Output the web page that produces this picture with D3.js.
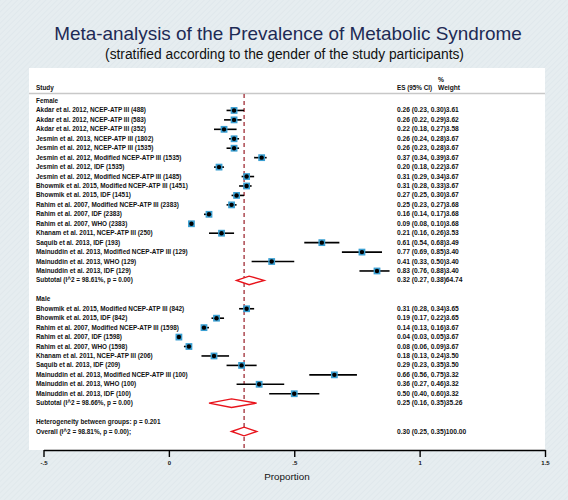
<!DOCTYPE html>
<html><head><meta charset="utf-8">
<script src="https://cdn.jsdelivr.net/npm/d3@7"></script>
<style>body{margin:0;background:#e8eef0;} svg{display:block;}</style>
</head><body><svg id="c" width="568" height="500"></svg>
<script>
const titleText = "Meta-analysis of the Prevalence of Metabolic Syndrome";
const subtitleText = "(stratified according to the gender of the study participants)";

const femaleStudies = [
  "Akdar et al. 2012, NCEP-ATP III  (488)",
  "Akdar et al. 2012, NCEP-ATP III (583)",
  "Akdar et al. 2012, NCEP-ATP III  (352)",
  "Jesmin et al. 2013, NCEP-ATP III (1802)",
  "Jesmin et al. 2012, NCEP-ATP III (1535)",
  "Jesmin et al. 2012, Modified NCEP-ATP III (1535)",
  "Jesmin et al. 2012, IDF (1535)",
  "Jesmin et al. 2012, Modified NCEP-ATP III (1485)",
  "Bhowmik et al. 2015, Modified NCEP-ATP III (1451)",
  "Bhowmik et al. 2015, IDF (1451)",
  "Rahim et al. 2007, Modified NCEP-ATP III (2383)",
  "Rahim et al. 2007, IDF (2383)",
  "Rahim et al. 2007, WHO (2383)",
  "Khanam et al. 2011, NCEP-ATP III (250)",
  "Saquib et al. 2013, IDF (193)",
  "Mainuddin et al. 2013, Modified NCEP-ATP III (129)",
  "Mainuddin et al. 2013, WHO (129)",
  "Mainuddin et al. 2013, IDF (129)"
];
const femaleES = [0.26,0.26,0.22,0.26,0.26,0.37,0.20,0.31,0.31,0.27,0.25,0.16,0.09,0.21,0.61,0.77,0.41,0.83];
const femaleLo = [0.23,0.22,0.18,0.24,0.23,0.34,0.18,0.29,0.28,0.25,0.23,0.14,0.08,0.16,0.54,0.69,0.33,0.76];
const femaleHi = [0.30,0.29,0.27,0.28,0.28,0.39,0.22,0.34,0.33,0.30,0.27,0.17,0.10,0.26,0.68,0.85,0.50,0.88];
const femaleWeight = ["3.61","3.62","3.58","3.67","3.67","3.67","3.67","3.67","3.67","3.67","3.68","3.68","3.68","3.53","3.49","3.40","3.40","3.40"];

const maleStudies = [
  "Bhowmik et al. 2015, Modified NCEP-ATP III (842)",
  "Bhowmik et al. 2015, IDF (842)",
  "Rahim et al. 2007, Modified NCEP-ATP III (1598)",
  "Rahim et al. 2007, IDF (1598)",
  "Rahim et al. 2007, WHO (1598)",
  "Khanam et al. 2011, NCEP-ATP III (206)",
  "Saquib et al. 2013, IDF (209)",
  "Mainuddin et al. 2013, Modified NCEP-ATP III (100)",
  "Mainuddin et al. 2013, WHO (100)",
  "Mainuddin et al. 2013, IDF (100)"
];
const maleES = [0.31,0.19,0.14,0.04,0.08,0.18,0.29,0.66,0.36,0.50];
const maleLo = [0.28,0.17,0.13,0.03,0.06,0.13,0.23,0.56,0.27,0.40];
const maleHi = [0.34,0.22,0.16,0.05,0.09,0.24,0.35,0.75,0.46,0.60];
const maleWeight = ["3.65","3.65","3.67","3.67","3.67","3.50","3.50","3.32","3.32","3.32"];

const pooledLabels = ["Subtotal  (I^2 = 98.61%, p = 0.00)", "Subtotal  (I^2 = 98.66%, p = 0.00)", "Overall  (I^2 = 98.81%, p = 0.00);"];
const pooledES = [0.32, 0.25, 0.30];
const pooledLo = [0.27, 0.16, 0.25];
const pooledHi = [0.38, 0.35, 0.35];
const pooledWeight = ["64.74", "35.26", "100.00"];
const heterogeneityText = "Heterogeneity between groups: p = 0.201";
const overallRef = 0.30;

const xTicks = [-0.5, 0, 0.5, 1, 1.5];
const xTickLabels = ["-.5", "0", ".5", "1", "1.5"];
const xTitle = "Proportion";

// build rows
const rows = [];
rows.push({type:"group", label:"Female"});
femaleStudies.forEach((s,i)=>rows.push({type:"study", label:s, es:femaleES[i], lo:femaleLo[i], hi:femaleHi[i], w:femaleWeight[i]}));
rows.push({type:"pooled", label:pooledLabels[0], es:pooledES[0], lo:pooledLo[0], hi:pooledHi[0], w:pooledWeight[0]});
rows.push({type:"blank"});
rows.push({type:"group", label:"Male"});
maleStudies.forEach((s,i)=>rows.push({type:"study", label:s, es:maleES[i], lo:maleLo[i], hi:maleHi[i], w:maleWeight[i]}));
rows.push({type:"pooled", label:pooledLabels[1], es:pooledES[1], lo:pooledLo[1], hi:pooledHi[1], w:pooledWeight[1]});
rows.push({type:"blank"});
rows.push({type:"group", label:heterogeneityText});
rows.push({type:"pooled", label:pooledLabels[2], es:pooledES[2], lo:pooledLo[2], hi:pooledHi[2], w:pooledWeight[2]});

const svg = d3.select("#c");
const FONT = "'Liberation Sans', Arial, Helvetica, sans-serif";

// size a font so a sample string gets a target width
function fitSize(str, target, weight) {
  const t = svg.append("text").attr("font-family",FONT).attr("font-size",20)
    .attr("font-weight",weight||"normal").text(str);
  const w = t.node().getComputedTextLength();
  t.remove();
  return 20 * target / w;
}

// background texture
const defs = svg.append("defs");
const pat = defs.append("pattern").attr("id","bgp").attr("width",4).attr("height",4)
  .attr("patternUnits","userSpaceOnUse").attr("patternTransform","rotate(45)");
pat.append("rect").attr("width",4).attr("height",4).attr("fill","#e6edf0");
pat.append("line").attr("x1",0).attr("y1",0).attr("x2",0).attr("y2",4).attr("stroke","#dde6ea").attr("stroke-width",1.2);
svg.append("rect").attr("width",568).attr("height",500).attr("fill","url(#bgp)");

const panel = {x0:29, x1:545, y0:68, y1:450};
svg.append("rect").attr("x",panel.x0).attr("y",panel.y0).attr("width",panel.x1-panel.x0).attr("height",panel.y1-panel.y0).attr("fill","#ffffff");

// title
const titleFs = fitSize(titleText, 468, "normal");
const subFs = fitSize(subtitleText, 359, "normal");
svg.append("text").attr("x",288).attr("y",40).attr("text-anchor","middle")
  .attr("font-family",FONT).attr("font-size",titleFs).attr("fill","#1d2a55").text(titleText);
svg.append("text").attr("x",284.5).attr("y",59).attr("text-anchor","middle")
  .attr("font-family",FONT).attr("font-size",subFs).attr("fill","#111").text(subtitleText);

const x = d3.scaleLinear().domain([-0.5, 1.5]).range([43.5, 545]);
const y = d3.scaleLinear().domain([0, rows.length-1]).range([101, 431.5]);

const fs = fitSize(femaleStudies[8], 152, "bold");
const fsES = fitSize("0.26 (0.23, 0.30)3.61", 62, "bold");
// header
const hdr = svg.append("g").attr("font-family",FONT).attr("font-weight","bold").attr("fill","#111");
hdr.append("text").attr("x",36).attr("y",90).attr("font-size",fs).text("Study");
hdr.append("text").attr("x",397).attr("y",90).attr("font-size",fsES*0.95).text("ES (95% CI)");
hdr.append("text").attr("x",438).attr("y",82).attr("font-size",fsES).text("%");
hdr.append("text").attr("x",438).attr("y",90).attr("font-size",fsES).text("Weight");
svg.append("line").attr("x1",panel.x0).attr("x2",panel.x1).attr("y1",93.5).attr("y2",93.5)
  .attr("stroke","#c8c8c8").attr("stroke-width",1.5);

// reference dashed line
svg.append("line").attr("x1",x(overallRef)).attr("x2",x(overallRef)).attr("y1",94).attr("y2",panel.y1)
  .attr("stroke","#a02c36").attr("stroke-width",1.3).attr("stroke-dasharray","4,3");

const fmt = d3.format(".2f");
const g = svg.append("g");
rows.forEach((r,i)=>{
  const yy = y(i);
  if (r.type === "blank") return;
  g.append("text").attr("x",36).attr("y",yy+2).attr("font-family",FONT).attr("font-size",fs)
    .attr("font-weight","bold").attr("fill","#111").text(r.label);
  if (r.type === "study") {
    g.append("line").attr("x1",x(r.lo)).attr("x2",x(r.hi)).attr("y1",yy).attr("y2",yy)
      .attr("stroke","#000").attr("stroke-width",1.6);
    g.append("rect").attr("x",x(r.es)-3.4).attr("y",yy-3.4).attr("width",6.8).attr("height",6.8)
      .attr("fill","#3a9fd2");
    g.append("circle").attr("cx",x(r.es)).attr("cy",yy).attr("r",2.2).attr("fill","#000");
  }
  if (r.type === "pooled") {
    const h = 4.3;
    g.append("path").attr("d",`M${x(r.lo)},${yy}L${x(r.es)},${yy-h}L${x(r.hi)},${yy}L${x(r.es)},${yy+h}Z`)
      .attr("fill","#fff").attr("stroke","#e8141c").attr("stroke-width",1.4);
  }
  if (r.type === "study" || r.type === "pooled") {
    g.append("text").attr("x",397).attr("y",yy+2).attr("font-family",FONT).attr("font-size",fsES)
      .attr("font-weight","bold").attr("fill","#111")
      .text(`${fmt(r.es)} (${fmt(r.lo)}, ${fmt(r.hi)})${r.w}`);
  }
});

// axis
const ax = svg.append("g").attr("transform",`translate(0,${panel.y1})`)
  .call(d3.axisBottom(x).tickValues(xTicks).tickFormat((d,i)=>xTickLabels[i]).tickSize(7).tickSizeOuter(0).tickPadding(4));
ax.select(".domain").attr("stroke","#000").attr("stroke-width",1.4);
ax.selectAll(".tick line").attr("stroke","#000").attr("stroke-width",1.4);
ax.selectAll(".tick text").attr("font-family",FONT).attr("font-size",6).attr("font-weight","bold").attr("fill","#111");
svg.append("text").attr("x",287).attr("y",479.5).attr("text-anchor","middle")
  .attr("font-family",FONT).attr("font-size",fitSize(xTitle, 45.5, "normal")).attr("fill","#111").text(xTitle);
</script></body></html>
